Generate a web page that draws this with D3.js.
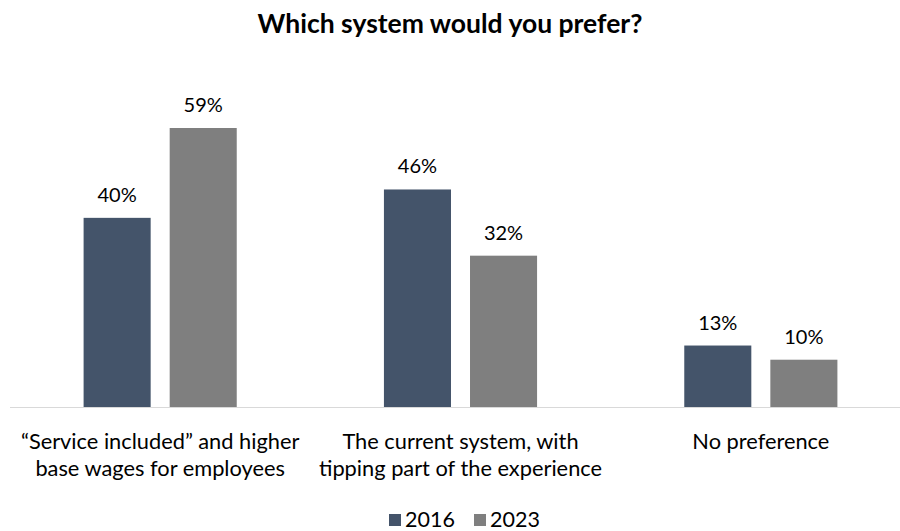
<!DOCTYPE html>
<html>
<head>
<meta charset="utf-8">
<script src="https://cdn.jsdelivr.net/npm/d3@7"></script>
<style>
  html, body { margin: 0; padding: 0; background: #fff; }
  svg { display: block; font-family: Lato, "Open Sans", sans-serif; }
</style>
</head>
<body>
<svg id="chart" width="900" height="531"></svg>
<script>
// Survey results: preferred tipping system, 2016 vs 2023
const categories = [
  ["\u201CService included\u201D and higher", "base wages for employees"],
  ["The current system, with", "tipping part of the experience"],
  ["No preference"]
];
const seriesNames = ["2016", "2023"];
const values2016 = [40, 46, 13];
const values2023 = [59, 32, 10];
const colors = ["#44546a", "#7f7f7f"];

const svg = d3.select("#chart");
const baseY = 407;

const x0 = d3.scaleBand().domain(d3.range(categories.length)).range([10, 911]);
const x1 = d3.scaleBand().domain(seriesNames).range([0, x0.bandwidth()])
  .paddingInner(0.221).paddingOuter(0.855);
const y = d3.scaleLinear().domain([0, 59]).range([baseY, 128]);

const rows = categories.map((c, i) => ({ i, vals: [values2016[i], values2023[i]] }));

svg.append("text")
  .attr("x", 450).attr("y", 33)
  .attr("text-anchor", "middle")
  .attr("font-size", 26.5).attr("font-weight", "bold").attr("fill", "#000")
  .text("Which system would you prefer?");

const g = svg.selectAll("g.grp").data(rows).join("g")
  .attr("class", "grp")
  .attr("transform", d => `translate(${x0(d.i)},0)`);

g.selectAll("rect").data(d => d.vals.map((v, k) => ({ v, k }))).join("rect")
  .attr("x", d => x1(seriesNames[d.k]))
  .attr("width", x1.bandwidth())
  .attr("y", d => y(d.v))
  .attr("height", d => baseY - y(d.v))
  .attr("fill", d => colors[d.k]);

g.selectAll("text.val").data(d => d.vals.map((v, k) => ({ v, k }))).join("text")
  .attr("class", "val")
  .attr("x", d => x1(seriesNames[d.k]) + x1.bandwidth() / 2)
  .attr("y", d => y(d.v) - 16)
  .attr("text-anchor", "middle")
  .attr("font-size", 20).attr("fill", "#000")
  .text(d => d.v + "%");

// category axis
svg.append("line")
  .attr("x1", 10).attr("x2", 900)
  .attr("y1", baseY + 0.5).attr("y2", baseY + 0.5)
  .attr("stroke", "#d9d9d9").attr("stroke-width", 1);

g.each(function(d) {
  const t = d3.select(this).append("text")
    .attr("text-anchor", "middle")
    .attr("font-size", 21.8).attr("fill", "#000");
  categories[d.i].forEach((line, j) => {
    t.append("tspan")
      .attr("x", x0.bandwidth() / 2)
      .attr("y", 449 + j * 27)
      .text(line);
  });
});

// legend
const legendX = [389, 474];
const lg = svg.selectAll("g.leg").data(seriesNames).join("g")
  .attr("class", "leg")
  .attr("transform", (d, i) => `translate(${legendX[i]},514)`);
lg.append("rect").attr("width", 12).attr("height", 12).attr("fill", (d, i) => colors[i]);
lg.append("text").attr("x", 16).attr("y", 13)
  .attr("font-size", 21.5).attr("fill", "#000").text(d => d);
</script>
</body>
</html>
